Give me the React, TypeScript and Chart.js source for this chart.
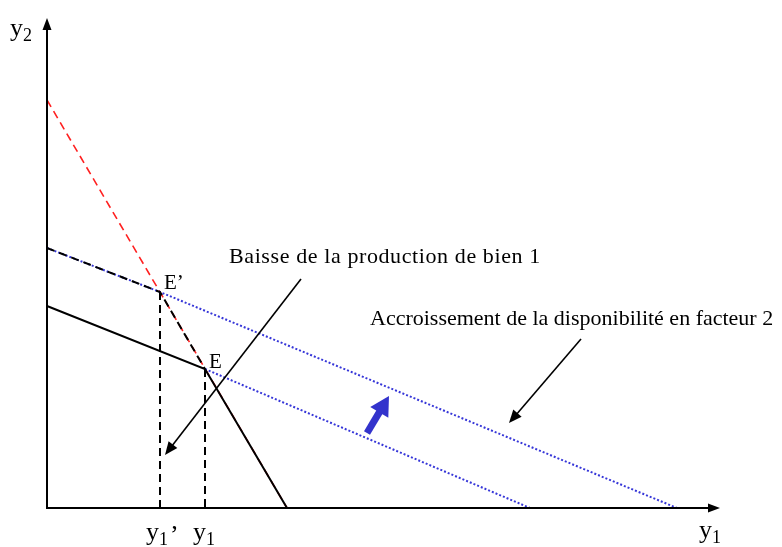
import { useEffect, useRef } from "react";
import { Chart, registerables } from "chart.js";

Chart.register(...registerables);

// Axis extents (economic units, origin at the axes' crossing)
const X_MAX = 673;
const Y_MAX = 490;

// Key points
const pointEprime = { x: 113, y: 216 };
const pointE = { x: 158, y: 139 };

// Lines
const redDashedLine = [{ x: 0, y: 408 }, { x: 240, y: 0 }];
const solidFrontier = [{ x: 0, y: 202 }, pointE, { x: 240, y: 0 }];
const dashedFrontier = [{ x: 0, y: 260 }, pointEprime, pointE];
const blueUpper = [{ x: 0, y: 260 }, pointEprime, { x: 630, y: 0 }];
const blueLower = [pointE, { x: 483, y: 0 }];
const dropEprime = [pointEprime, { x: pointEprime.x, y: 0 }];
const dropE = [pointE, { x: pointE.x, y: 0 }];

// Annotation arrows (from -> to)
const arrowBaisse = [{ x: 254, y: 229 }, { x: 118, y: 53 }];
const arrowAccroissement = [{ x: 534, y: 169 }, { x: 462, y: 85 }];
const arrowShift = [{ x: 320, y: 75 }, { x: 342, y: 112 }];

// Texts
const textBaisse = "Baisse de la production de bien 1";
const textAccroissement = "Accroissement de la disponibilité en facteur 2";
const labelEprime = "E’";
const labelE = "E";

const SERIF = "'Liberation Serif', 'DejaVu Serif', serif";

function drawArrow(
  ctx: CanvasRenderingContext2D,
  x1: number, y1: number, x2: number, y2: number,
  color: string, lw: number, headLen: number, headW: number
) {
  const dx = x2 - x1, dy = y2 - y1;
  const len = Math.hypot(dx, dy);
  const ux = dx / len, uy = dy / len;
  const bx = x2 - ux * headLen, by = y2 - uy * headLen;
  ctx.save();
  ctx.strokeStyle = color;
  ctx.fillStyle = color;
  ctx.lineWidth = lw;
  ctx.setLineDash([]);
  ctx.beginPath();
  ctx.moveTo(x1, y1);
  ctx.lineTo(bx + ux * 2, by + uy * 2);
  ctx.stroke();
  ctx.beginPath();
  ctx.moveTo(x2, y2);
  ctx.lineTo(bx - uy * headW / 2, by + ux * headW / 2);
  ctx.lineTo(bx + uy * headW / 2, by - ux * headW / 2);
  ctx.closePath();
  ctx.fill();
  ctx.restore();
}

function drawSubLabel(
  ctx: CanvasRenderingContext2D, base: string, sub: string, suffix: string,
  x: number, y: number, size: number
) {
  ctx.save();
  ctx.fillStyle = "#000";
  ctx.textBaseline = "alphabetic";
  ctx.textAlign = "left";
  ctx.font = `${size}px ${SERIF}`;
  ctx.fillText(base, x, y);
  let cx = x + ctx.measureText(base).width;
  const subSize = Math.round(size * 0.7);
  ctx.font = `${subSize}px ${SERIF}`;
  ctx.fillText(sub, cx, y + size * 0.2);
  cx += ctx.measureText(sub).width;
  if (suffix) {
    ctx.font = `${size}px ${SERIF}`;
    ctx.fillText(suffix, cx + 2, y + 3);
  }
  ctx.restore();
}

const overlayPlugin = {
  id: "overlay",
  afterDatasetsDraw(chart: any) {
    const { ctx } = chart;
    const xs = chart.scales.x;
    const ys = chart.scales.y;
    const px = (v: number) => xs.getPixelForValue(v);
    const py = (v: number) => ys.getPixelForValue(v);

    // Axes with arrowheads
    const ox = px(0), oy = py(0);
    ctx.save();
    ctx.strokeStyle = "#000";
    ctx.lineWidth = 2;
    ctx.beginPath();
    ctx.moveTo(ox, oy);
    ctx.lineTo(ox, py(Y_MAX) + 10);
    ctx.moveTo(ox - 1, oy);
    ctx.lineTo(px(X_MAX) - 10, oy);
    ctx.stroke();
    ctx.fillStyle = "#000";
    ctx.beginPath();
    ctx.moveTo(ox, py(Y_MAX));
    ctx.lineTo(ox - 4.5, py(Y_MAX) + 12);
    ctx.lineTo(ox + 4.5, py(Y_MAX) + 12);
    ctx.closePath();
    ctx.fill();
    ctx.beginPath();
    ctx.moveTo(px(X_MAX), oy);
    ctx.lineTo(px(X_MAX) - 12, oy - 4.5);
    ctx.lineTo(px(X_MAX) - 12, oy + 4.5);
    ctx.closePath();
    ctx.fill();
    ctx.restore();

    // Annotation arrows
    drawArrow(ctx, px(arrowBaisse[0].x), py(arrowBaisse[0].y), px(arrowBaisse[1].x), py(arrowBaisse[1].y), "#000", 1.6, 13, 11);
    drawArrow(ctx, px(arrowAccroissement[0].x), py(arrowAccroissement[0].y), px(arrowAccroissement[1].x), py(arrowAccroissement[1].y), "#000", 1.6, 13, 11);
    drawArrow(ctx, px(arrowShift[0].x), py(arrowShift[0].y), px(arrowShift[1].x), py(arrowShift[1].y), "#3333CC", 7, 19, 21);

    // Texts
    ctx.save();
    ctx.fillStyle = "#000";
    ctx.textAlign = "left";
    ctx.textBaseline = "alphabetic";
    ctx.font = `22px ${SERIF}`;
    (ctx as any).letterSpacing = "0.6px";
    ctx.fillText(textBaisse, px(182), py(245));
    (ctx as any).letterSpacing = "0px";
    ctx.fillText(textAccroissement, px(323), py(183));
    ctx.font = `21px ${SERIF}`;
    ctx.fillText(labelEprime, px(117), py(219));
    ctx.fillText(labelE, px(162), py(140));
    ctx.restore();

    // Axis labels
    drawSubLabel(ctx, "y", "2", "", ox - 37, py(Y_MAX) + 18, 26);
    drawSubLabel(ctx, "y", "1", "’", px(pointEprime.x) - 14, oy + 32, 26);
    drawSubLabel(ctx, "y", "1", "", px(pointE.x) - 12, oy + 32, 26);
    drawSubLabel(ctx, "y", "1", "", px(X_MAX) - 21, oy + 30, 26);
  },
};

export default function App() {
  const canvasRef = useRef<HTMLCanvasElement | null>(null);

  useEffect(() => {
    document.body.style.margin = "0";
    const canvas = canvasRef.current;
    if (!canvas) return;
    const line = (data: any[], color: string, width: number, dash: number[], order: number) => ({
      data,
      showLine: true,
      borderColor: color,
      borderWidth: width,
      borderDash: dash,
      pointRadius: 0,
      fill: false,
      tension: 0,
      clip: false as any,
      order,
    });
    const chart = new Chart(canvas, {
      type: "scatter",
      data: {
        datasets: [
          line(redDashedLine, "#FF2020", 1.6, [8, 5], 5),
          line(blueUpper, "#3636D8", 2, [2, 2], 4),
          line(blueLower, "#3636D8", 2, [2, 2], 4),
          line(solidFrontier, "#000", 2, [], 1),
          line(dashedFrontier, "#000", 2, [8, 5], 1),
          line(dropEprime, "#000", 2, [8, 5], 1),
          line(dropE, "#000", 2, [8, 5], 1),
        ] as any,
      },
      options: {
        responsive: false,
        devicePixelRatio: 1,
        animation: false,
        layout: { padding: { left: 47, right: 62, top: 18, bottom: 39 } },
        scales: {
          x: { type: "linear", min: 0, max: X_MAX, display: false },
          y: { type: "linear", min: 0, max: Y_MAX, display: false },
        },
        plugins: {
          legend: { display: false },
          tooltip: { enabled: false },
        },
        events: [],
      },
      plugins: [overlayPlugin],
    });
    return () => chart.destroy();
  }, []);

  return (
    <div style={{ position: "fixed", left: 0, top: 0, width: 782, height: 547, background: "#fff" }}>
      <canvas ref={canvasRef} width={782} height={547} />
    </div>
  );
}
